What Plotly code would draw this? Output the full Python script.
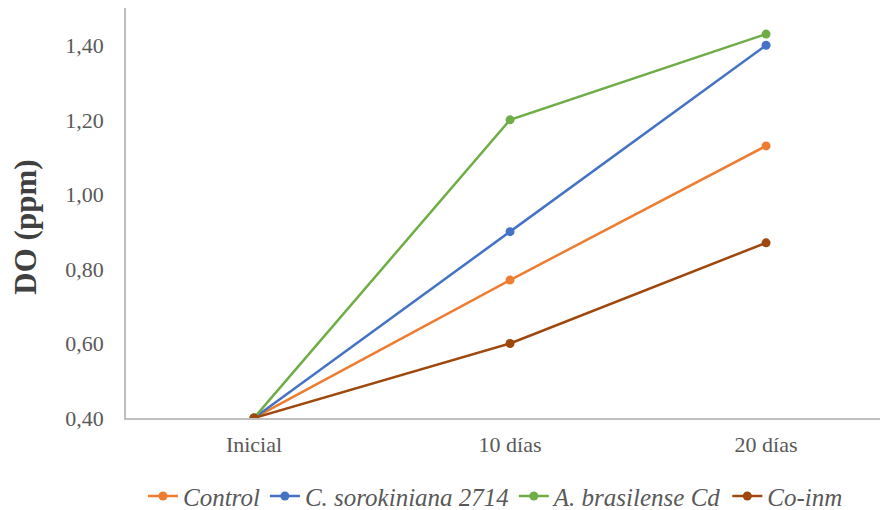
import plotly.graph_objects as go

# Sampling times and dissolved-oxygen readings (ppm)
categories = ["Inicial", "10 días", "20 días"]
control = [0.40, 0.77, 1.13]
sorokiniana = [0.40, 0.90, 1.40]
brasilense = [0.40, 1.20, 1.43]
coinm = [0.40, 0.60, 0.87]

series = [
    ("Control", control, "#ED7D31"),
    ("C. sorokiniana 2714", sorokiniana, "#4472C4"),
    ("A. brasilense Cd", brasilense, "#70AD47"),
    ("Co-inm", coinm, "#9E480E"),
]

x_pos = list(range(len(categories)))

fig = go.Figure()
for name, vals, color in series:
    fig.add_trace(go.Scatter(
        x=x_pos, y=vals, name=name, mode="lines+markers",
        line=dict(color=color, width=2.5),
        marker=dict(color=color, size=9),
    ))

serif = "Times New Roman, Liberation Serif, serif"

fig.update_layout(
    width=884, height=510,
    margin=dict(l=126, r=4, t=8, b=92),
    plot_bgcolor="white", paper_bgcolor="white",
    font=dict(family=serif, color="#595959"),
    separators=", ",
    showlegend=True,
    legend=dict(
        orientation="h", x=0.49, xanchor="center",
        yref="container", y=0.027, yanchor="middle",
        font=dict(family=serif, size=25, color="#595959", style="italic"),
        itemwidth=30, tracegroupgap=0,
    ),
    xaxis=dict(
        tickmode="array", tickvals=x_pos, ticktext=categories,
        range=[-0.5, 2.445], showgrid=False, zeroline=False,
        showline=True, linecolor="#BFBFBF", linewidth=1.5,
        ticks="", tickfont=dict(family=serif, size=22, color="#595959"),
        ticklabelstandoff=6, automargin=False,
    ),
    yaxis=dict(
        range=[0.4, 1.5], tickvals=[0.4, 0.6, 0.8, 1.0, 1.2, 1.4],
        tickformat=".2f", showgrid=False, zeroline=False,
        showline=True, linecolor="#BFBFBF", linewidth=1.5,
        ticks="", tickfont=dict(family=serif, size=22, color="#595959"),
        ticklabelstandoff=16, automargin=False,
    ),
    annotations=[dict(
        text="<b>DO (ppm)</b>", textangle=-90, showarrow=False,
        xref="paper", yref="paper", x=-0.133, y=0.466,
        xanchor="center", yanchor="middle",
        font=dict(family=serif, size=31, color="#404040"),
    )],
)

fig.write_html("out.html")
